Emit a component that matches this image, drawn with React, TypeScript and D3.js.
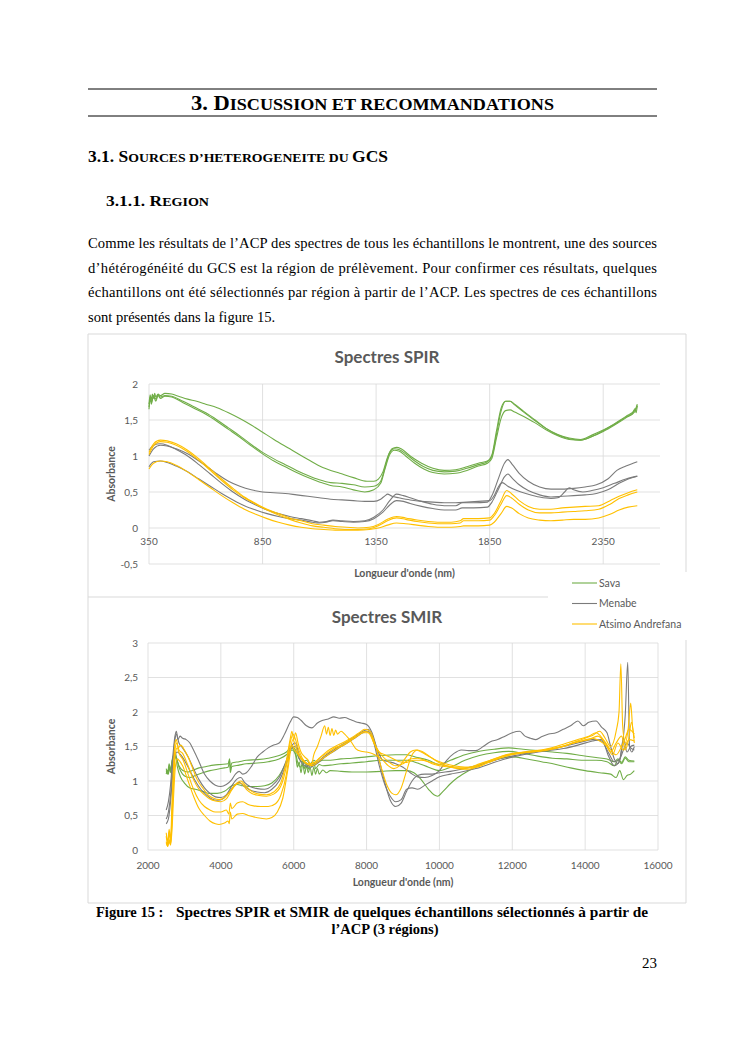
import * as d3 from 'd3';

type Pt = [number, number];

// ---- page text ----
const paragraphLines = [
  'Comme les résultats de l’ACP des spectres de tous les échantillons le montrent, une des sources',
  'd’hétérogénéité du GCS est la région de prélèvement. Pour confirmer ces résultats, quelques',
  'échantillons ont été sélectionnés par région à partir de l’ACP. Les spectres de ces échantillons',
  'sont présentés dans la figure 15.',
];

// ---- legend ----
const regions = ['Sava', 'Menabe', 'Atsimo Andrefana'];
const regionColors = ['#70AD47', '#7B7B7B', '#FFC000'];

// ---- SPIR axis ----
const spirTicksX = [350, 850, 1350, 1850, 2350];
const spirTicksY = [-0.5, 0, 0.5, 1, 1.5, 2];

// ---- SPIR spectra (wavelength nm, absorbance) ----
const spirSava1: Pt[] = [[350,1.72],[355,1.85],[360,1.78],[365,1.86],[370,1.8],[375,1.87],[380,1.82],[390,1.86],[400,1.84],[420,1.87],[450,1.86],[480,1.83],[520,1.79],[560,1.76],[600,1.72],[650,1.67],[700,1.6],[750,1.52],[800,1.43],[850,1.33],[900,1.23],[970,1.1],[1050,0.95],[1115,0.84],[1150,0.8],[1190,0.76],[1250,0.7],[1310,0.65],[1340,0.65],[1360,0.68],[1380,0.78],[1400,0.98],[1420,1.1],[1440,1.12],[1460,1.1],[1500,1.0],[1550,0.9],[1600,0.83],[1650,0.8],[1700,0.81],[1750,0.85],[1800,0.9],[1840,0.93],[1860,1.02],[1880,1.35],[1900,1.66],[1920,1.76],[1940,1.76],[1960,1.71],[2000,1.61],[2050,1.49],[2100,1.38],[2150,1.3],[2200,1.25],[2250,1.23],[2300,1.29],[2350,1.36],[2400,1.44],[2450,1.54],[2480,1.6],[2490,1.66],[2495,1.6],[2500,1.7]];
const spirSava2: Pt[] = [[350,1.68],[355,1.82],[360,1.75],[370,1.84],[380,1.79],[390,1.85],[400,1.82],[420,1.84],[450,1.83],[500,1.76],[550,1.68],[600,1.6],[650,1.5],[700,1.39],[750,1.28],[800,1.16],[850,1.05],[900,0.96],[950,0.88],[1000,0.8],[1050,0.73],[1100,0.67],[1150,0.63],[1200,0.62],[1250,0.6],[1300,0.57],[1340,0.58],[1370,0.65],[1390,0.85],[1410,1.05],[1430,1.1],[1450,1.09],[1480,1.03],[1520,0.93],[1560,0.85],[1600,0.8],[1650,0.78],[1700,0.79],[1750,0.83],[1800,0.88],[1840,0.92],[1860,1.0],[1880,1.3],[1900,1.62],[1920,1.76],[1940,1.76],[1960,1.72],[2000,1.62],[2050,1.5],[2100,1.38],[2150,1.29],[2200,1.24],[2250,1.22],[2300,1.27],[2350,1.34],[2400,1.43],[2450,1.53],[2490,1.62],[2500,1.7]];
const spirSava3: Pt[] = [[350,1.65],[355,1.8],[360,1.72],[370,1.83],[380,1.76],[390,1.84],[400,1.8],[420,1.83],[450,1.82],[500,1.74],[550,1.66],[600,1.58],[650,1.48],[700,1.37],[750,1.26],[800,1.14],[850,1.03],[900,0.93],[950,0.85],[1000,0.77],[1050,0.7],[1100,0.64],[1150,0.59],[1200,0.57],[1250,0.53],[1300,0.5],[1340,0.53],[1370,0.62],[1390,0.83],[1410,1.02],[1430,1.08],[1450,1.07],[1480,1.0],[1520,0.9],[1560,0.82],[1600,0.77],[1650,0.75],[1700,0.76],[1750,0.8],[1800,0.86],[1840,0.9],[1860,0.97],[1880,1.25],[1900,1.52],[1920,1.63],[1940,1.64],[1960,1.61],[2000,1.55],[2050,1.46],[2100,1.36],[2150,1.28],[2200,1.23],[2250,1.22],[2300,1.27],[2350,1.35],[2400,1.45],[2450,1.55],[2490,1.64],[2500,1.72]];
const spirMenabe1: Pt[] = [[350,1.0],[370,1.1],[400,1.15],[430,1.14],[470,1.1],[520,1.03],[570,0.93],[620,0.82],[650,0.75],[700,0.65],[750,0.58],[800,0.53],[850,0.5],[900,0.49],[950,0.48],[1000,0.46],[1050,0.44],[1100,0.42],[1150,0.4],[1200,0.39],[1250,0.38],[1300,0.37],[1340,0.37],[1370,0.4],[1390,0.45],[1400,0.47],[1420,0.44],[1450,0.42],[1500,0.39],[1550,0.37],[1600,0.36],[1650,0.35],[1700,0.35],[1750,0.36],[1800,0.37],[1850,0.38],[1870,0.45],[1890,0.58],[1905,0.63],[1930,0.58],[1970,0.52],[2020,0.47],[2070,0.43],[2120,0.41],[2150,0.42],[2180,0.5],[2200,0.56],[2220,0.53],[2260,0.5],[2300,0.52],[2350,0.56],[2400,0.62],[2450,0.68],[2500,0.72]];
const spirMenabe2: Pt[] = [[350,1.08],[370,1.15],[400,1.17],[430,1.15],[470,1.09],[520,1.0],[570,0.88],[620,0.75],[670,0.62],[720,0.5],[770,0.4],[820,0.32],[870,0.25],[920,0.2],[970,0.16],[1020,0.13],[1070,0.1],[1100,0.08],[1130,0.09],[1160,0.11],[1200,0.1],[1250,0.09],[1300,0.1],[1340,0.15],[1380,0.25],[1410,0.38],[1440,0.47],[1470,0.45],[1500,0.42],[1550,0.37],[1600,0.33],[1650,0.31],[1700,0.31],[1730,0.35],[1780,0.35],[1840,0.36],[1860,0.45],[1890,0.7],[1915,0.9],[1930,0.95],[1950,0.88],[1980,0.76],[2020,0.65],[2070,0.57],[2120,0.54],[2170,0.54],[2220,0.55],[2270,0.57],[2320,0.6],[2370,0.68],[2410,0.8],[2450,0.86],[2500,0.92]];
const spirMenabe3: Pt[] = [[350,0.85],[370,0.92],[400,0.93],[430,0.91],[470,0.86],[520,0.78],[570,0.68],[620,0.58],[670,0.48],[720,0.39],[770,0.31],[820,0.25],[870,0.2],[920,0.16],[970,0.13],[1020,0.11],[1070,0.08],[1100,0.07],[1130,0.08],[1160,0.1],[1200,0.09],[1250,0.08],[1300,0.09],[1340,0.13],[1380,0.22],[1410,0.32],[1440,0.38],[1470,0.37],[1500,0.34],[1550,0.3],[1600,0.27],[1650,0.25],[1700,0.25],[1730,0.28],[1780,0.28],[1840,0.29],[1860,0.36],[1890,0.55],[1915,0.71],[1930,0.75],[1950,0.69],[1980,0.6],[2020,0.52],[2070,0.46],[2120,0.43],[2170,0.44],[2220,0.45],[2270,0.46],[2320,0.48],[2370,0.53],[2420,0.62],[2460,0.68],[2500,0.72]];
const spirAtsimo1: Pt[] = [[350,1.05],[370,1.17],[400,1.22],[430,1.21],[470,1.17],[520,1.08],[570,0.96],[620,0.82],[670,0.68],[720,0.55],[770,0.43],[820,0.34],[870,0.26],[920,0.2],[970,0.14],[1020,0.1],[1070,0.06],[1120,0.04],[1170,0.02],[1220,0.01],[1270,0.0],[1320,0.01],[1360,0.05],[1400,0.12],[1440,0.16],[1480,0.14],[1530,0.11],[1580,0.09],[1630,0.08],[1680,0.08],[1720,0.1],[1735,0.13],[1800,0.13],[1850,0.14],[1870,0.2],[1900,0.38],[1925,0.52],[1945,0.48],[1980,0.38],[2020,0.3],[2070,0.26],[2120,0.26],[2170,0.28],[2220,0.29],[2270,0.3],[2330,0.31],[2380,0.38],[2420,0.44],[2460,0.49],[2500,0.53]];
const spirAtsimo2: Pt[] = [[350,1.02],[370,1.14],[400,1.2],[430,1.19],[470,1.15],[520,1.06],[570,0.94],[620,0.8],[670,0.66],[720,0.53],[770,0.42],[820,0.33],[870,0.25],[920,0.18],[970,0.12],[1020,0.07],[1070,0.03],[1120,0.01],[1170,-0.01],[1220,-0.02],[1270,-0.02],[1320,-0.01],[1360,0.03],[1400,0.1],[1440,0.14],[1480,0.12],[1530,0.09],[1580,0.07],[1630,0.06],[1680,0.06],[1720,0.07],[1735,0.1],[1800,0.1],[1850,0.11],[1870,0.17],[1900,0.33],[1925,0.45],[1945,0.42],[1980,0.33],[2020,0.25],[2070,0.21],[2120,0.21],[2170,0.22],[2220,0.23],[2270,0.24],[2330,0.26],[2380,0.33],[2420,0.41],[2460,0.46],[2500,0.5]];
const spirAtsimo3: Pt[] = [[350,0.82],[370,0.9],[400,0.93],[430,0.92],[470,0.87],[520,0.78],[570,0.67],[620,0.56],[670,0.45],[720,0.35],[770,0.26],[820,0.19],[870,0.13],[920,0.08],[970,0.04],[1020,0.01],[1070,-0.01],[1120,-0.02],[1170,-0.03],[1220,-0.03],[1270,-0.03],[1320,-0.02],[1360,0.0],[1400,0.04],[1440,0.07],[1480,0.06],[1530,0.04],[1580,0.02],[1630,0.01],[1680,0.01],[1720,0.02],[1735,0.03],[1800,0.03],[1850,0.04],[1870,0.08],[1900,0.2],[1925,0.3],[1945,0.28],[1980,0.2],[2020,0.14],[2070,0.11],[2120,0.1],[2170,0.11],[2220,0.12],[2270,0.12],[2330,0.14],[2380,0.19],[2420,0.25],[2460,0.29],[2500,0.31]];

// ---- SMIR axis ----
const smirTicksX = [2000, 4000, 6000, 8000, 10000, 12000, 14000, 16000];
const smirTicksY = [0, 0.5, 1, 1.5, 2, 2.5, 3];

// ---- SMIR spectra ----
const smirSava1: Pt[] = [[2500,1.1],[2530,1.16],[2560,1.1],[2590,1.2],[2620,1.14],[2650,1.25],[2680,1.2],[2720,1.3],[2760,1.35],[2800,1.3],[2850,1.22],[2900,1.18],[3000,1.14],[3100,1.13],[3200,1.15],[3400,1.19],[3600,1.21],[3800,1.23],[4000,1.24],[4200,1.25],[4240,1.32],[4260,1.18],[4300,1.26],[4500,1.28],[4700,1.3],[5000,1.31],[5300,1.33],[5600,1.37],[5800,1.42],[5950,1.5],[6050,1.45],[6150,1.32],[6250,1.28],[6350,1.3],[6450,1.25],[6550,1.3],[6650,1.27],[6800,1.3],[7000,1.3],[7300,1.32],[7600,1.33],[8000,1.35],[8400,1.37],[8800,1.38],[9100,1.38],[9400,1.34],[9700,1.3],[10000,1.24],[10300,1.3],[10700,1.38],[11100,1.43],[11500,1.46],[11900,1.48],[12300,1.46],[12700,1.44],[13100,1.42],[13500,1.4],[13900,1.37],[14300,1.34],[14600,1.32],[14800,1.28],[14900,1.32],[15000,1.27],[15100,1.35],[15200,1.3],[15350,1.29]];
const smirSava2: Pt[] = [[2500,1.15],[2540,1.1],[2580,1.2],[2620,1.12],[2660,1.28],[2700,1.35],[2750,1.4],[2800,1.3],[2850,1.2],[2950,1.1],[3050,1.06],[3150,1.05],[3300,1.08],[3500,1.12],[3700,1.15],[3900,1.17],[4100,1.19],[4200,1.2],[4240,1.3],[4260,1.12],[4300,1.21],[4500,1.23],[4700,1.25],[5000,1.26],[5300,1.28],[5600,1.32],[5800,1.38],[5950,1.47],[6050,1.4],[6120,1.25],[6200,1.2],[6250,1.3],[6300,1.18],[6350,1.26],[6400,1.17],[6450,1.25],[6500,1.2],[6550,1.28],[6600,1.18],[6700,1.24],[6800,1.22],[7000,1.23],[7300,1.25],[7600,1.26],[8000,1.28],[8400,1.3],[8800,1.3],[9100,1.3],[9400,1.26],[9700,1.2],[10000,1.15],[10300,1.2],[10700,1.3],[11100,1.37],[11500,1.41],[11900,1.43],[12300,1.4],[12700,1.36],[13100,1.33],[13500,1.32],[13900,1.3],[14300,1.3],[14600,1.28],[14800,1.22],[14900,1.3],[15000,1.25],[15100,1.33],[15200,1.28],[15350,1.28]];
const smirSava3: Pt[] = [[2500,1.18],[2540,1.12],[2580,1.25],[2620,1.15],[2660,1.3],[2720,1.38],[2760,1.35],[2800,1.22],[2900,1.05],[3000,0.97],[3150,0.9],[3300,0.88],[3500,0.85],[3700,0.82],[3900,0.82],[4100,0.85],[4300,0.93],[4450,0.95],[4600,0.93],[4800,0.92],[5000,0.92],[5200,0.93],[5400,0.97],[5600,1.08],[5800,1.28],[5950,1.45],[6050,1.38],[6100,1.2],[6150,1.28],[6200,1.12],[6250,1.25],[6300,1.1],[6350,1.22],[6400,1.12],[6450,1.2],[6500,1.08],[6550,1.2],[6600,1.1],[6650,1.18],[6700,1.1],[6800,1.16],[6900,1.12],[7000,1.15],[7300,1.14],[7600,1.13],[8000,1.13],[8400,1.14],[8800,1.15],[9100,1.15],[9300,1.12],[9500,1.02],[9700,0.88],[9850,0.8],[9950,0.78],[10100,0.85],[10300,0.96],[10500,1.05],[10800,1.15],[11200,1.25],[11600,1.32],[12000,1.35],[12400,1.32],[12800,1.28],[13200,1.24],[13600,1.19],[14000,1.15],[14400,1.12],[14700,1.1],[14850,1.05],[14950,1.15],[15050,1.02],[15150,1.08],[15250,1.1],[15350,1.15]];
const smirMenabe1: Pt[] = [[2500,0.58],[2560,0.7],[2620,0.95],[2680,1.35],[2740,1.65],[2780,1.72],[2820,1.6],[2880,1.65],[2950,1.62],[3050,1.6],[3150,1.55],[3250,1.45],[3400,1.28],[3550,1.1],[3700,1.0],[3850,0.94],[4000,0.92],[4150,0.95],[4300,1.02],[4400,1.1],[4500,1.14],[4600,1.1],[4700,1.12],[4850,1.22],[5000,1.35],[5150,1.42],[5300,1.48],[5450,1.52],[5600,1.55],[5750,1.68],[5900,1.85],[6000,1.93],[6100,1.92],[6200,1.88],[6350,1.8],[6500,1.77],[6650,1.84],[6800,1.88],[6950,1.9],[7100,1.93],[7250,1.91],[7400,1.92],[7550,1.89],[7700,1.86],[7850,1.84],[8000,1.82],[8150,1.7],[8300,1.45],[8450,1.3],[8600,1.28],[8800,1.25],[9000,1.2],[9200,1.12],[9400,1.06],[9600,1.05],[9800,1.08],[10000,1.15],[10200,1.3],[10400,1.4],[10600,1.45],[10800,1.44],[11000,1.44],[11200,1.5],[11400,1.57],[11600,1.6],[11800,1.65],[12000,1.7],[12200,1.72],[12350,1.65],[12500,1.62],[12650,1.6],[12800,1.64],[13000,1.68],[13200,1.7],[13400,1.75],[13600,1.8],[13800,1.87],[13950,1.8],[14100,1.85],[14300,1.87],[14450,1.78],[14600,1.7],[14700,1.5],[14800,1.32],[14900,1.25],[15000,1.45],[15100,1.95],[15170,2.72],[15220,1.5],[15280,1.42],[15350,1.5]];
const smirMenabe2: Pt[] = [[2500,0.45],[2560,0.55],[2620,0.8],[2680,1.25],[2740,1.6],[2780,1.68],[2850,1.55],[2950,1.48],[3100,1.35],[3250,1.18],[3400,1.02],[3550,0.9],[3700,0.82],[3850,0.77],[4000,0.76],[4150,0.8],[4300,0.93],[4450,1.03],[4550,1.05],[4650,0.98],[4800,0.92],[5000,0.89],[5200,0.88],[5400,0.93],[5600,1.05],[5800,1.3],[5950,1.52],[6050,1.55],[6150,1.38],[6300,1.26],[6450,1.22],[6600,1.25],[6750,1.32],[6900,1.38],[7100,1.45],[7300,1.52],[7500,1.58],[7700,1.65],[7900,1.72],[8050,1.75],[8200,1.6],[8350,1.3],[8500,0.98],[8650,0.72],[8800,0.63],[8950,0.68],[9100,0.85],[9250,1.0],[9400,1.08],[9600,1.1],[9800,1.1],[10000,1.12],[10300,1.14],[10600,1.17],[11000,1.22],[11400,1.28],[11800,1.34],[12200,1.38],[12600,1.42],[13000,1.45],[13400,1.5],[13800,1.55],[14200,1.6],[14450,1.58],[14650,1.4],[14800,1.28],[14950,1.32],[15050,1.45],[15150,1.55],[15250,1.48],[15350,1.45]];
const smirMenabe3: Pt[] = [[2500,0.38],[2560,0.45],[2620,0.7],[2680,1.1],[2740,1.35],[2800,1.42],[2900,1.38],[3000,1.3],[3150,1.15],[3300,1.0],[3450,0.88],[3600,0.8],[3750,0.74],[3900,0.72],[4050,0.74],[4200,0.82],[4350,0.92],[4500,0.98],[4650,0.92],[4800,0.87],[5000,0.84],[5200,0.83],[5400,0.88],[5600,1.0],[5800,1.25],[5950,1.48],[6050,1.5],[6150,1.33],[6300,1.22],[6450,1.2],[6600,1.24],[6750,1.3],[6900,1.36],[7100,1.43],[7300,1.5],[7500,1.56],[7700,1.63],[7900,1.7],[8050,1.72],[8200,1.55],[8350,1.22],[8500,0.95],[8650,0.78],[8800,0.7],[8950,0.73],[9100,0.88],[9250,0.9],[9400,0.88],[9600,0.94],[9800,1.0],[10000,1.06],[10300,1.1],[10600,1.13],[11000,1.18],[11400,1.25],[11800,1.32],[12200,1.37],[12600,1.41],[13000,1.44],[13400,1.47],[13800,1.52],[14200,1.58],[14450,1.6],[14650,1.35],[14800,1.22],[14950,1.3],[15050,1.62],[15150,1.42],[15250,1.5],[15350,1.52]];
const smirAtsimo1: Pt[] = [[2500,0.25],[2540,0.12],[2580,0.3],[2620,0.15],[2660,0.7],[2700,1.2],[2740,1.55],[2780,1.6],[2830,1.48],[2900,1.52],[3000,1.45],[3100,1.35],[3200,1.22],[3350,1.02],[3500,0.9],[3650,0.8],[3800,0.75],[3950,0.73],[4100,0.76],[4250,0.85],[4400,0.95],[4550,1.0],[4700,0.92],[4850,0.85],[5050,0.81],[5250,0.8],[5450,0.84],[5650,0.98],[5800,1.3],[5900,1.6],[5950,1.72],[6000,1.6],[6050,1.7],[6120,1.55],[6200,1.42],[6300,1.35],[6400,1.3],[6480,1.22],[6550,1.38],[6650,1.5],[6750,1.65],[6850,1.8],[6900,1.68],[6950,1.78],[7000,1.66],[7050,1.76],[7100,1.66],[7150,1.74],[7200,1.68],[7300,1.72],[7400,1.68],[7500,1.62],[7600,1.55],[7700,1.47],[7850,1.43],[8000,1.42],[8150,1.4],[8300,1.36],[8450,1.3],[8600,1.22],[8750,1.18],[8900,1.22],[9050,1.32],[9200,1.42],[9350,1.45],[9500,1.42],[9700,1.36],[9900,1.3],[10100,1.26],[10400,1.22],[10700,1.2],[11000,1.2],[11300,1.26],[11600,1.32],[11900,1.37],[12200,1.4],[12500,1.42],[12800,1.44],[13100,1.47],[13400,1.5],[13700,1.56],[14000,1.62],[14200,1.66],[14400,1.72],[14550,1.62],[14700,1.5],[14850,1.72],[14930,2.0],[14980,2.7],[15030,1.8],[15100,1.55],[15180,1.75],[15250,2.13],[15300,1.8],[15350,1.62]];
const smirAtsimo2: Pt[] = [[2500,0.2],[2540,0.08],[2580,0.25],[2620,0.1],[2660,0.55],[2700,1.05],[2740,1.45],[2790,1.55],[2850,1.45],[2950,1.4],[3100,1.22],[3250,1.02],[3400,0.88],[3550,0.8],[3700,0.74],[3850,0.71],[4000,0.7],[4150,0.74],[4300,0.87],[4450,0.96],[4550,0.97],[4700,0.88],[4850,0.82],[5050,0.79],[5250,0.78],[5450,0.81],[5650,0.93],[5800,1.22],[5900,1.55],[5980,1.68],[6050,1.6],[6120,1.48],[6250,1.32],[6400,1.25],[6550,1.26],[6700,1.33],[6850,1.4],[7000,1.46],[7200,1.52],[7400,1.57],[7600,1.63],[7800,1.7],[7950,1.75],[8100,1.72],[8250,1.5],[8400,1.2],[8550,0.95],[8700,0.82],[8800,0.8],[8950,0.9],[9100,1.15],[9250,1.38],[9400,1.45],[9550,1.42],[9750,1.35],[9950,1.28],[10200,1.22],[10500,1.18],[10800,1.17],[11100,1.22],[11400,1.28],[11700,1.34],[12000,1.39],[12300,1.41],[12600,1.43],[12900,1.45],[13200,1.48],[13500,1.52],[13800,1.57],[14100,1.6],[14350,1.65],[14550,1.55],[14700,1.42],[14850,1.55],[15000,1.65],[15100,1.45],[15200,1.62],[15270,1.85],[15350,1.55]];
const smirAtsimo3: Pt[] = [[2500,0.12],[2540,0.05],[2580,0.15],[2620,0.08],[2660,0.45],[2700,0.95],[2740,1.35],[2800,1.48],[2870,1.38],[2950,1.32],[3100,1.1],[3250,0.88],[3400,0.72],[3550,0.63],[3700,0.58],[3850,0.55],[4000,0.55],[4150,0.58],[4220,0.52],[4260,0.68],[4300,0.6],[4450,0.68],[4600,0.7],[4750,0.66],[4900,0.64],[5100,0.63],[5300,0.63],[5500,0.67],[5650,0.8],[5800,1.1],[5900,1.45],[5980,1.6],[6050,1.5],[6150,1.38],[6300,1.28],[6450,1.24],[6600,1.28],[6750,1.35],[6900,1.4],[7100,1.47],[7300,1.52],[7500,1.58],[7700,1.64],[7900,1.7],[8050,1.7],[8200,1.55],[8350,1.42],[8500,1.38],[8700,1.33],[8900,1.28],[9100,1.27],[9300,1.3],[9500,1.3],[9700,1.28],[9900,1.25],[10200,1.22],[10500,1.2],[10800,1.2],[11100,1.25],[11400,1.3],[11700,1.36],[12000,1.4],[12300,1.42],[12600,1.44],[12900,1.46],[13200,1.5],[13500,1.55],[13800,1.6],[14100,1.65],[14300,1.7],[14500,1.6],[14700,1.45],[14850,1.38],[15000,1.5],[15100,1.62],[15200,1.75],[15350,1.68]];
const smirAtsimo4: Pt[] = [[2500,0.1],[2540,0.06],[2580,0.12],[2620,0.07],[2660,0.3],[2700,0.75],[2750,1.2],[2800,1.32],[2880,1.28],[2950,1.22],[3100,1.0],[3250,0.78],[3400,0.6],[3550,0.5],[3700,0.42],[3850,0.38],[3950,0.37],[4100,0.39],[4200,0.42],[4230,0.38],[4260,0.55],[4300,0.45],[4450,0.52],[4600,0.53],[4750,0.5],[4900,0.48],[5100,0.46],[5250,0.45],[5400,0.47],[5550,0.55],[5700,0.75],[5850,1.2],[5950,1.52],[6020,1.45],[6100,1.4],[6200,1.32],[6350,1.25],[6500,1.22],[6650,1.27],[6800,1.33],[7000,1.4],[7200,1.47],[7400,1.53],[7600,1.6],[7800,1.67],[7950,1.72],[8100,1.68],[8250,1.5],[8400,1.38],[8600,1.28],[8800,1.22],[9000,1.25],[9200,1.32],[9400,1.33],[9600,1.3],[9800,1.25],[10000,1.22],[10300,1.2],[10600,1.18],[10900,1.2],[11200,1.26],[11500,1.32],[11800,1.37],[12100,1.4],[12400,1.42],[12700,1.43],[13000,1.45],[13300,1.49],[13600,1.54],[13900,1.58],[14200,1.62],[14400,1.58],[14600,1.5],[14750,1.38],[14900,1.55],[15050,1.45],[15200,1.6],[15350,1.58]];

const spirSeries: { region: number; data: Pt[] }[] = [
  { region: 0, data: spirSava1 }, { region: 0, data: spirSava2 }, { region: 0, data: spirSava3 },
  { region: 1, data: spirMenabe1 }, { region: 1, data: spirMenabe2 }, { region: 1, data: spirMenabe3 },
  { region: 2, data: spirAtsimo1 }, { region: 2, data: spirAtsimo2 }, { region: 2, data: spirAtsimo3 },
];
const smirSeries: { region: number; data: Pt[] }[] = [
  { region: 0, data: smirSava1 }, { region: 0, data: smirSava2 }, { region: 0, data: smirSava3 },
  { region: 1, data: smirMenabe1 }, { region: 1, data: smirMenabe2 }, { region: 1, data: smirMenabe3 },
  { region: 2, data: smirAtsimo1 }, { region: 2, data: smirAtsimo2 }, { region: 2, data: smirAtsimo3 }, { region: 2, data: smirAtsimo4 },
];

const SERIF = '"Liberation Serif", "Times New Roman", serif';
const SANS = 'Lato, "Open Sans", sans-serif';
const AXIS = '#595959';
const GRID = '#D9D9D9';
const FRAME = '#D9D9D9';

const fmt = (v: number) => String(v).replace('.', ',');

interface ChartProps {
  title: string;
  titleY: number;
  series: { region: number; data: Pt[] }[];
  xDomain: [number, number];
  xRange: [number, number];
  yDomain: [number, number];
  yRange: [number, number];
  ticksX: number[];
  ticksY: number[];
  xLabelY: number;
  xTitleY: number;
}

function SpectraChart({ title, titleY, series, xDomain, xRange, yDomain, yRange, ticksX, ticksY, xLabelY, xTitleY }: ChartProps) {
  const x = d3.scaleLinear().domain(xDomain).range(xRange);
  const y = d3.scaleLinear().domain(yDomain).range(yRange);
  const line = d3.line<Pt>().x((d) => x(d[0])).y((d) => y(d[1])).curve(d3.curveMonotoneX);
  const midX = (xRange[0] + xRange[1]) / 2;
  const midY = (yRange[0] + yRange[1]) / 2;

  return (
    <g>
      <text x={387} y={titleY} textAnchor="middle" fontFamily={SANS} fontWeight={700} fontSize={17} fill={AXIS}>
        {title}
      </text>
      {/* horizontal grid */}
      {ticksY.map((t) => (
        <line key={'gy' + t} x1={xRange[0]} x2={xRange[1]} y1={y(t)} y2={y(t)} stroke={GRID} strokeWidth={0.8} />
      ))}
      {/* vertical grid */}
      {ticksX.filter((t) => t !== xDomain[0]).map((t) => (
        <line key={'gx' + t} x1={x(t)} x2={x(t)} y1={yRange[0]} y2={yRange[1]} stroke={GRID} strokeWidth={0.8} />
      ))}
      <line x1={xRange[0]} x2={xRange[0]} y1={yRange[0]} y2={yRange[1]} stroke={GRID} strokeWidth={0.8} />
      {/* y tick labels */}
      {ticksY.map((t) => (
        <text key={'ly' + t} x={138} y={y(t)} dy="0.35em" textAnchor="end" fontFamily={SANS} fontSize={10} fill={AXIS}>
          {fmt(t)}
        </text>
      ))}
      {/* x tick labels */}
      {ticksX.map((t) => (
        <text key={'lx' + t} x={x(t)} y={xLabelY} textAnchor="middle" fontFamily={SANS} fontSize={10} fill={AXIS}>
          {t}
        </text>
      ))}
      <text x={midX} y={xTitleY} textAnchor="middle" fontFamily={SANS} fontWeight={700} fontSize={10.5} fill={AXIS}>
        Longueur d'onde (nm)
      </text>
      <text transform={`translate(115,${midY}) rotate(-90)`} textAnchor="middle" fontFamily={SANS} fontWeight={700} fontSize={10.5} fill={AXIS}>
        Absorbance
      </text>
      {series.map((s, i) => (
        <path key={i} d={line(s.data) ?? ''} fill="none" stroke={regionColors[s.region]} strokeWidth={1.1} strokeLinejoin="round" />
      ))}
    </g>
  );
}

export default function App() {
  return (
    <svg width={745} height={1053} viewBox="0 0 745 1053" style={{ position: 'absolute', left: 0, top: 0, background: '#fff' }}>
      <rect width={745} height={1053} fill="#fff" />

      {/* headings */}
      <line x1={88} x2={657} y1={89} y2={89} stroke="#000" strokeWidth={1} />
      <text x={372.5} y={110} textAnchor="middle" fontFamily={SERIF} fontWeight={700} textLength={363} lengthAdjust="spacingAndGlyphs">
        <tspan fontSize={20.5}>3. D</tspan>
        <tspan fontSize={16.5}>ISCUSSION ET RECOMMANDATIONS</tspan>
      </text>
      <line x1={88} x2={657} y1={116} y2={116} stroke="#000" strokeWidth={1} />

      <text x={88} y={162} fontFamily={SERIF} fontWeight={700} textLength={300} lengthAdjust="spacingAndGlyphs">
        <tspan fontSize={16.5}>3.1. S</tspan>
        <tspan fontSize={13}>OURCES D’HETEROGENEITE DU </tspan>
        <tspan fontSize={16.5}>GCS</tspan>
      </text>
      <text x={106} y={206} fontFamily={SERIF} fontWeight={700} textLength={103} lengthAdjust="spacingAndGlyphs">
        <tspan fontSize={15.5}>3.1.1. R</tspan>
        <tspan fontSize={12.5}>EGION</tspan>
      </text>

      {/* paragraph */}
      {paragraphLines.map((l, i) => (
        <text
          key={i}
          x={88}
          y={248 + i * 24.6}
          fontFamily={SERIF}
          fontSize={14.6}
          fill="#000"
          {...(i < paragraphLines.length - 1 ? { textLength: 569, lengthAdjust: 'spacing' } : {})}
        >
          {l}
        </text>
      ))}

      {/* figure frame */}
      <g stroke={FRAME} strokeWidth={1} fill="none">
        <line x1={88} x2={686} y1={334} y2={334} />
        <line x1={88} x2={88} y1={334} y2={903} />
        <line x1={686} x2={686} y1={334} y2={572} />
        <line x1={686} x2={686} y1={640} y2={903} />
        <line x1={88} x2={686} y1={903} y2={903} />
        <line x1={88} x2={548} y1={597} y2={597} />
      </g>

      <SpectraChart
        title="Spectres SPIR"
        titleY={363}
        series={spirSeries}
        xDomain={[350, 2600]}
        xRange={[149, 660]}
        yDomain={[-0.5, 2]}
        yRange={[564, 384]}
        ticksX={spirTicksX}
        ticksY={spirTicksY}
        xLabelY={545}
        xTitleY={577}
      />
      <SpectraChart
        title="Spectres SMIR"
        titleY={623}
        series={smirSeries}
        xDomain={[2000, 16000]}
        xRange={[148, 658]}
        yDomain={[0, 3]}
        yRange={[850, 643]}
        ticksX={smirTicksX}
        ticksY={smirTicksY}
        xLabelY={869}
        xTitleY={886}
      />

      {/* legend (belongs to SPIR chart, overlapping the SMIR frame) */}
      <rect x={549} y={573} width={137} height={66} fill="#fff" />
      {regions.map((r, i) => (
        <g key={r}>
          <line x1={572} x2={597} y1={583 + i * 20.5} y2={583 + i * 20.5} stroke={regionColors[i]} strokeWidth={1.1} />
          <text x={599} y={583 + i * 20.5} dy="0.35em" fontFamily={SANS} fontSize={10.5} fill={AXIS}>
            {r}
          </text>
        </g>
      ))}

      {/* caption */}
      <text x={96} y={917} fontFamily={SERIF} fontWeight={700} fontSize={14.5} fill="#000">
        Figure 15 :
      </text>
      <text x={176} y={917} fontFamily={SERIF} fontWeight={700} fontSize={14.5} fill="#000" textLength={472} lengthAdjust="spacingAndGlyphs">
        Spectres SPIR et SMIR de quelques échantillons sélectionnés à partir de
      </text>
      <text x={385} y={934} textAnchor="middle" fontFamily={SERIF} fontWeight={700} fontSize={14.5} fill="#000">
        l’ACP (3 régions)
      </text>
      <text x={657} y={968} textAnchor="end" fontFamily={SERIF} fontSize={15} fill="#000">
        23
      </text>
    </svg>
  );
}
